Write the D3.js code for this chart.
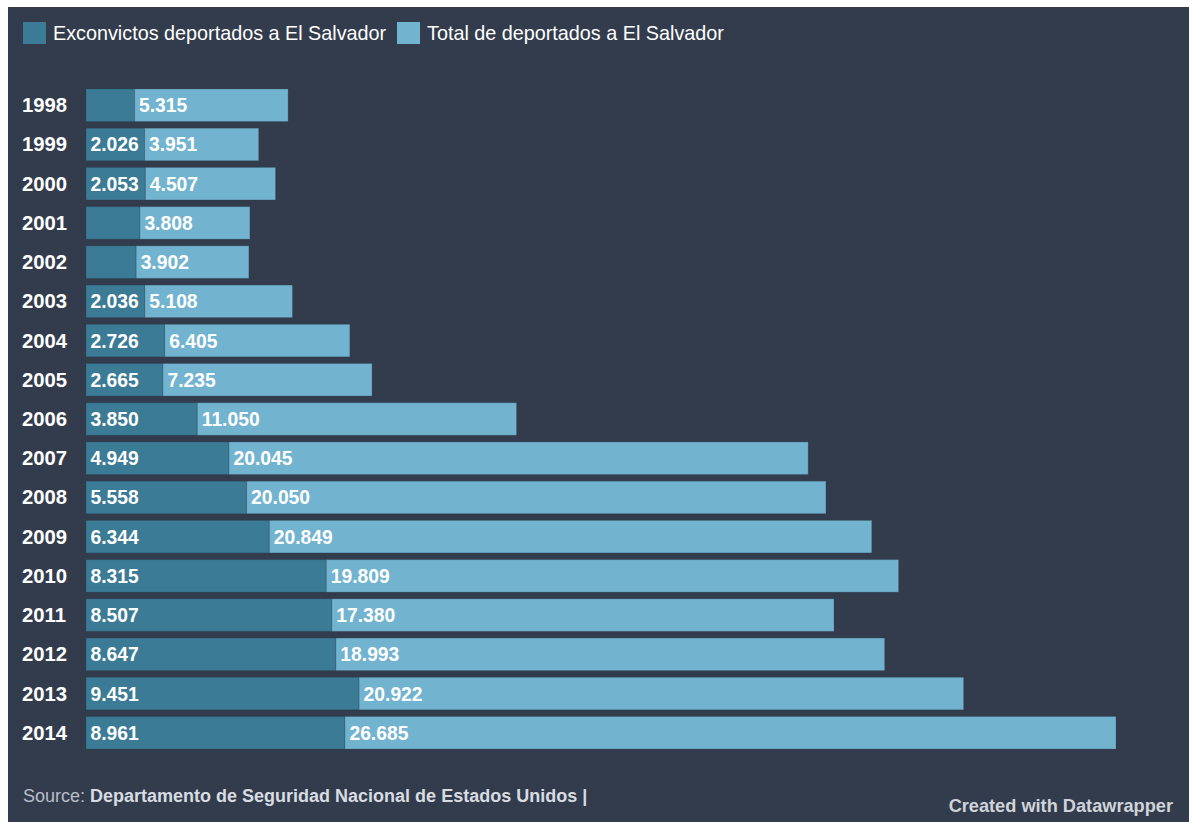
<!DOCTYPE html>
<html>
<head>
<meta charset="utf-8">
<script src="https://cdn.jsdelivr.net/npm/d3@7"></script>
<style>
  html, body { margin: 0; padding: 0; background: #ffffff; }
  svg { display: block; }
  text { font-family: "Liberation Sans", Arial, Helvetica, sans-serif; }
</style>
</head>
<body>
<svg id="chart" width="1190" height="822"></svg>
<script>
// Deportations to El Salvador, 1998–2014
const years = ["1998","1999","2000","2001","2002","2003","2004","2005","2006",
               "2007","2008","2009","2010","2011","2012","2013","2014"];
const exconvicts = [1680, 2026, 2053, 1865, 1735, 2036, 2726, 2665, 3850,
                    4949, 5558, 6344, 8315, 8507, 8647, 9451, 8961];
const totalDeported = [5315, 3951, 4507, 3808, 3902, 5108, 6405, 7235, 11050,
                       20045, 20050, 20849, 19809, 17380, 18993, 20922, 26685];
const seriesNames = ["Exconvictos deportados a El Salvador", "Total de deportados a El Salvador"];
const sourceLabel = "Source:";
const sourceName = "Departamento de Seguridad Nacional de Estados Unidos";
const credit = "Created with Datawrapper";

const colors = { bg: "#323c4c", dark: "#3b7b95", light: "#72b3cf" };
const fmt = v => d3.format(",")(v).replace(/,/g, ".");

const svg = d3.select("#chart");
const W = 1190, H = 822;

// panel background
svg.append("rect").attr("x", 8).attr("y", 7).attr("width", W - 9).attr("height", H - 7)
  .attr("fill", colors.bg);

// stacked rows
const rows = years.map((y, i) => ({ year: y, a: exconvicts[i], b: totalDeported[i] }));
const stack = d3.stack().keys(["a", "b"])(rows);

const maxTotal = d3.max(rows, d => d.a + d.b);
const x = d3.scaleLinear().domain([0, maxTotal]).range([86, 1116]);
const y = d3.scaleBand().domain(years).range([82.3, 755.7]).padding(0.17);

const fills = [colors.dark, colors.light];
const layers = svg.append("g").selectAll("g").data(stack).join("g")
  .attr("fill", (d, i) => fills[i]);

layers.selectAll("rect").data(d => d).join("rect")
  .attr("x", d => x(d[0]))
  .attr("y", d => y(d.data.year))
  .attr("width", d => x(d[1]) - x(d[0]))
  .attr("height", y.bandwidth())
  .attr("stroke", "rgba(40,60,80,0.25)")
  .attr("stroke-width", 1);

// value labels, hidden when they do not fit inside their segment
layers.each(function(layer) {
  d3.select(this).selectAll("text").data(layer).join("text")
    .attr("x", d => x(d[0]) + 4.5)
    .attr("y", d => y(d.data.year) + y.bandwidth() / 2 + 7)
    .attr("fill", "#ffffff")
    .attr("font-size", 19.3)
    .attr("font-weight", "bold")
    .text(d => fmt(d[1] - d[0]))
    .each(function(d) {
      const w = x(d[1]) - x(d[0]);
      if (this.getComputedTextLength() + 7 > w) d3.select(this).remove();
    });
});

// year axis
const yAxis = svg.append("g").attr("transform", "translate(22,0)")
  .call(d3.axisLeft(y).tickSize(0).tickPadding(0));
yAxis.select(".domain").remove();
yAxis.selectAll("text")
  .attr("text-anchor", "start")
  .attr("x", 0)
  .attr("dy", null)
  .attr("y", 7)
  .attr("fill", "#ffffff")
  .attr("font-size", 20.3)
  .attr("font-weight", "bold")
  .style("font-family", "'Liberation Sans', Arial, sans-serif");

// legend
const legendX = [23, 397];
seriesNames.forEach((name, i) => {
  const g = svg.append("g").attr("transform", `translate(${legendX[i]},22)`);
  g.append("rect").attr("width", 23).attr("height", 22).attr("fill", fills[i]);
  g.append("text").attr("x", 30).attr("y", 17.5)
    .attr("fill", "#ffffff").attr("font-size", 19.8)
    .text(name);
});

// footer
const src = svg.append("text").attr("x", 23).attr("y", 802).attr("font-size", 18);
src.append("tspan").attr("fill", "#b8bec8").text(sourceLabel + " ");
src.append("tspan").attr("fill", "#d8dce2").attr("font-weight", "bold").text(sourceName + " |");

svg.append("text").attr("x", 1173).attr("y", 812).attr("text-anchor", "end")
  .attr("font-size", 18.2).attr("font-weight", "bold").attr("fill", "#d0d4da")
  .text(credit);
</script>
</body>
</html>
